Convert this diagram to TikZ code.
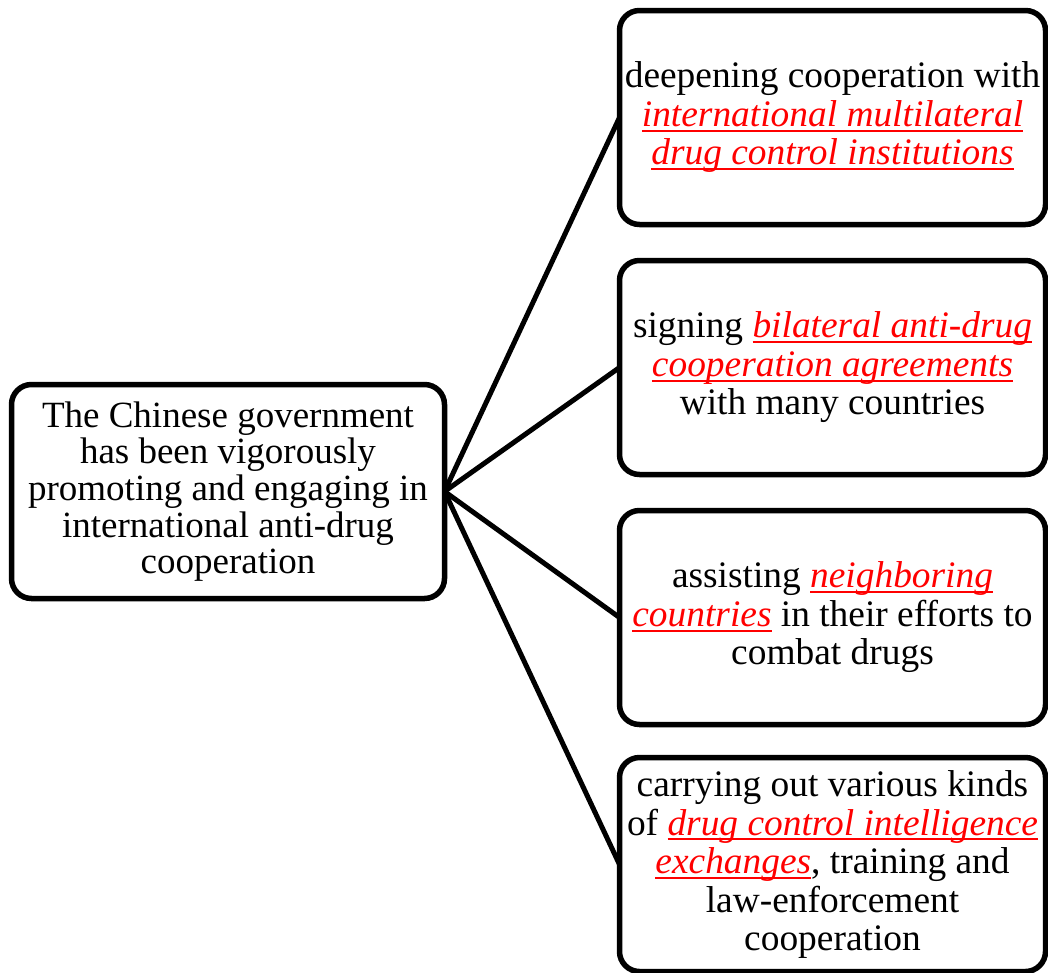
\documentclass[tikz,border=0pt]{standalone}
\usepackage{fontspec}
\setmainfont{Liberation Serif}
\usepackage{xcolor}
\newlength\rulw
\newcommand\redul[1]{\settowidth\rulw{\itshape #1}\leavevmode\rlap{\color{red}\rule[-0.14em]{\rulw}{0.055em}}{\color{red}\itshape #1}}
\tikzset{
  box/.style={draw=black, line width=5.5pt, rounded corners=20pt, align=center, inner sep=0pt, outer sep=0pt},
  rbox/.style={box, minimum width=426pt, minimum height=214pt, font=\fontsize{37.4}{38.5}\selectfont},
  lbox/.style={box, minimum width=433pt, minimum height=214pt, font=\fontsize{37}{36.6}\selectfont},
  conn/.style={draw=black, line width=5pt}
}
\begin{document}
\begin{tikzpicture}[x=1pt,y=-1pt]
\useasboundingbox (0,0) rectangle (1048,972);
\node[lbox] (L) at (228,491.5) {The Chinese government\\has been vigorously\\promoting and engaging in\\international anti-drug\\cooperation};
\node[rbox] (R1) at (832.5,117.5) {deepening cooperation with\\\redul{international multilateral}\\\redul{drug control institutions}};
\node[rbox] (R2) at (832.5,367.5) {signing \redul{bilateral anti-drug}\\\redul{cooperation agreements}\\with many countries};
\node[rbox] (R3) at (832.5,617.5) {assisting \redul{neighboring}\\\redul{countries} in their efforts to\\combat drugs};
\node[rbox] (R4) at (832.5,864.5) {carrying out various kinds\\of \redul{drug control intelligence}\\\redul{exchanges}, training and\\law-enforcement\\cooperation};
\draw[conn] (L.east) -- (R1.west);
\draw[conn] (L.east) -- (R2.west);
\draw[conn] (L.east) -- (R3.west);
\draw[conn] (L.east) -- (R4.west);
\end{tikzpicture}
\end{document}
